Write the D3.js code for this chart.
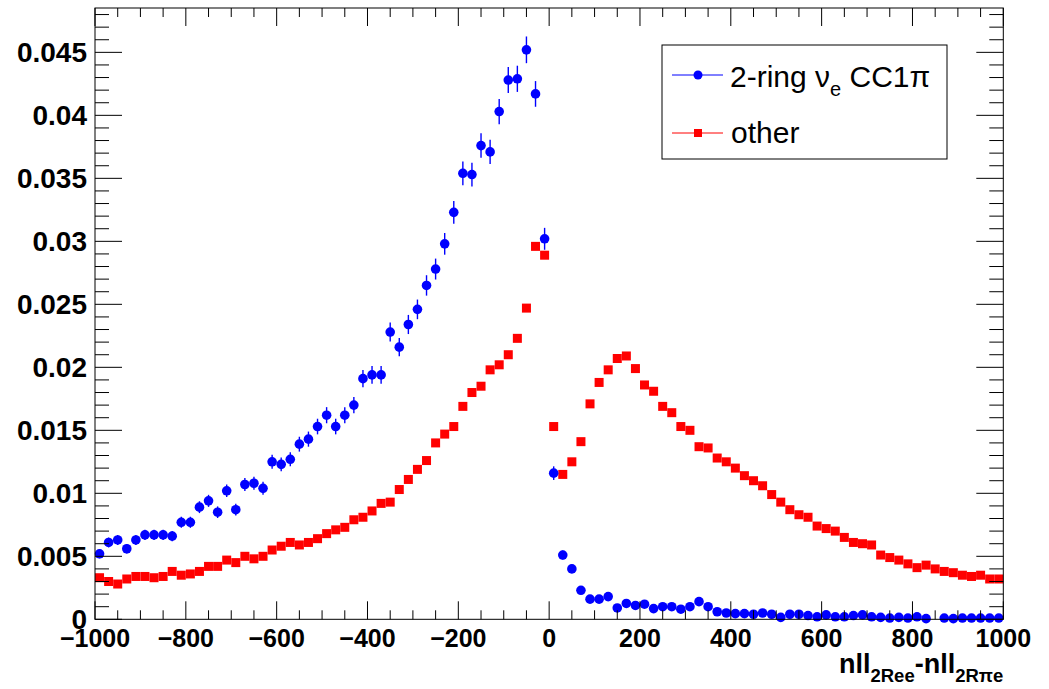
<!DOCTYPE html>
<html>
<head>
<meta charset="utf-8">
<script src="https://cdn.jsdelivr.net/npm/d3@7"></script>
<style>
  html, body { margin: 0; padding: 0; background: #fff; }
  svg { display: block; }
</style>
</head>
<body>
<svg id="chart" width="1049" height="689"></svg>
<script>
// ---------------- data ----------------
const binLow = -1000, binHigh = 1000, nBins = 100;
const binCenters = d3.range(nBins).map(i => binLow + (i + 0.5) * (binHigh - binLow) / nBins);

const signalValues = [
  0.0052, 0.0061, 0.0063, 0.0056, 0.0063, 0.0067, 0.0067, 0.0067, 0.0066, 0.0077,
  0.0077, 0.0089, 0.0094, 0.0085, 0.0102, 0.0087, 0.0107, 0.0108, 0.0104, 0.0125,
  0.0123, 0.0127, 0.0139, 0.0143, 0.0153, 0.0162, 0.0153, 0.0162, 0.0170, 0.0191,
  0.0194, 0.0194, 0.0228, 0.0216, 0.0234, 0.0246, 0.0265, 0.0278, 0.0298, 0.0323,
  0.0354, 0.0353, 0.0376, 0.0371, 0.0403, 0.0428, 0.0429, 0.0452, 0.0417, 0.0302,
  0.0116, 0.0051, 0.0040, 0.0023, 0.0016, 0.0016, 0.0018, 0.0009, 0.00126, 0.0011,
  0.0012, 0.00085, 0.0010, 0.0010, 0.0008, 0.0010, 0.0014, 0.0010, 0.0006, 0.0005,
  0.00045, 0.00045, 0.0004, 0.0005, 0.0004, 0.00015, 0.0004, 0.0004, 0.0003, 0.0002,
  0.00035, 0.0002, 0.0002, 0.0003, 0.00035, 0.0002, 0.00015, 0.0001, 0.00015, 0.0001,
  0.0002, 0.00005, null, 0.0001, 0.00005, 0.0001, 0.0001, 0.0001, 0.0001, 0.0001
];
const signalErrors = [
  0.00036, 0.00039, 0.0004, 0.00037, 0.0004, 0.00041, 0.00041, 0.00041, 0.00041, 0.00044,
  0.00044, 0.00047, 0.00048, 0.00046, 0.0005, 0.00047, 0.00052, 0.00052, 0.00051, 0.00056,
  0.00055, 0.00056, 0.00059, 0.0006, 0.00062, 0.00064, 0.00062, 0.00064, 0.00065, 0.00069,
  0.0007, 0.0007, 0.00076, 0.00073, 0.00076, 0.00078, 0.00081, 0.00083, 0.00086, 0.0009,
  0.00094, 0.00094, 0.00097, 0.00096, 0.001, 0.00103, 0.00104, 0.00106, 0.00102, 0.00087,
  0.00054, 0.00036, 0.00032, 0.00024, 0.0002, 0.0002, 0.00021, 0.00015, 0.00018, 0.00017,
  0.00017, 0.00015, 0.00016, 0.00016, 0.00014, 0.00016, 0.00019, 0.00016, 0.00012, 0.00011,
  0.0001, 0.0001, 0.0001, 0.00011, 0.0001, 0.00006, 0.0001, 0.0001, 0.00009, 0.00007,
  0.00009, 0.00007, 0.00007, 0.00009, 0.00009, 0.00007, 0.00006, 0.00005, 0.00006, 0.00005,
  0.00007, 0.00004, 0, 0.00005, 0.00004, 0.00005, 0.00005, 0.00005, 0.00005, 0.00005
];
const otherValues = [
  0.0033, 0.0030, 0.0028, 0.0032, 0.0034, 0.0034, 0.0033, 0.0034, 0.0038, 0.0035,
  0.0036, 0.0038, 0.0042, 0.0042, 0.0047, 0.0045, 0.0050, 0.0048, 0.0050, 0.0055,
  0.0058, 0.0061, 0.0059, 0.0061, 0.0064, 0.0068, 0.0071, 0.0073, 0.0079, 0.0081,
  0.0086, 0.0092, 0.0093, 0.0103, 0.0111, 0.0119, 0.0126, 0.0140, 0.0147, 0.0153,
  0.0169, 0.0180, 0.0185, 0.0198, 0.0202, 0.0210, 0.0223, 0.0247, 0.0296, 0.0289,
  0.0153, 0.0115, 0.0125, 0.0141, 0.0171, 0.0188, 0.0198, 0.0207, 0.0209, 0.0199,
  0.0186, 0.0181, 0.0169, 0.0164, 0.0153, 0.0150, 0.0137, 0.0136, 0.0128, 0.0125,
  0.0120, 0.0114, 0.0110, 0.0106, 0.0099, 0.0093, 0.0087, 0.0083, 0.0081, 0.0074,
  0.0072, 0.0070, 0.0065, 0.0061, 0.0060, 0.0059, 0.0051, 0.0049, 0.0047, 0.0044,
  0.0041, 0.0043, 0.0040, 0.0038, 0.0037, 0.0035, 0.0034, 0.0035, 0.0032, 0.0032
];

const xMajorTicks = [-1000, -800, -600, -400, -200, 0, 200, 400, 600, 800, 1000];
const xTickLabels = ["\u22121000", "\u2212800", "\u2212600", "\u2212400", "\u2212200", "0", "200", "400", "600", "800", "1000"];
const yMajorTicks = [0, 0.005, 0.01, 0.015, 0.02, 0.025, 0.03, 0.035, 0.04, 0.045];
const yTickLabels = ["0", "0.005", "0.01", "0.015", "0.02", "0.025", "0.03", "0.035", "0.04", "0.045"];
const legendLabels = ["2-ring", "other"];

// ---------------- layout ----------------
const frame = { left: 95, right: 1003.3, top: 8, bottom: 619.3 };
const yMax = 0.04852;
const svg = d3.select("#chart");
svg.append("rect").attr("width", 1049).attr("height", 689).attr("fill", "#fff");

const x = d3.scaleLinear().domain([binLow, binHigh]).range([frame.left, frame.right]);
const y = d3.scaleLinear().domain([0, yMax]).range([frame.bottom, frame.top]);

const BLUE = "#0000ff", RED = "#ff0000";
const font = "'Liberation Sans', Arial, Helvetica, sans-serif";

// ---------------- data marks ----------------
const otherData = binCenters.map((c, i) => ({ c, v: otherValues[i] }));
const sigData = binCenters.map((c, i) => ({ c, v: signalValues[i], e: signalErrors[i] })).filter(d => d.v !== null);

const sq = 9;
svg.append("g").selectAll("rect").data(otherData).join("rect")
  .attr("x", d => x(d.c) - sq / 2).attr("y", d => y(d.v) - sq / 2)
  .attr("width", sq).attr("height", sq).attr("fill", RED);

svg.append("g").selectAll("line").data(sigData).join("line")
  .attr("x1", d => x(d.c)).attr("x2", d => x(d.c))
  .attr("y1", d => y(d.v + d.e)).attr("y2", d => y(Math.max(0, d.v - d.e)))
  .attr("stroke", BLUE).attr("stroke-width", 1.4);

svg.append("g").selectAll("circle").data(sigData).join("circle")
  .attr("cx", d => x(d.c)).attr("cy", d => y(d.v)).attr("r", 4.8).attr("fill", BLUE);

// ---------------- frame and ticks ----------------
const axisG = svg.append("g").attr("stroke", "#000").attr("stroke-width", 1);
axisG.append("rect")
  .attr("x", frame.left).attr("y", frame.top)
  .attr("width", frame.right - frame.left).attr("height", frame.bottom - frame.top)
  .attr("fill", "none");

const xMinor = d3.range(-1000, 1001, 50).filter(v => v % 200 !== 0);
const yMinor = d3.range(0, 49).map(i => i * 0.001).filter(v => y(v) >= frame.top && Math.round(v * 1000) % 5 !== 0);

function tick(x1, y1, x2, y2) {
  axisG.append("line").attr("x1", x1).attr("y1", y1).attr("x2", x2).attr("y2", y2);
}
xMajorTicks.forEach(v => {
  tick(x(v), frame.bottom, x(v), frame.bottom - 18);
  tick(x(v), frame.top, x(v), frame.top + 18);
});
xMinor.forEach(v => {
  tick(x(v), frame.bottom, x(v), frame.bottom - 9);
  tick(x(v), frame.top, x(v), frame.top + 9);
});
yMajorTicks.forEach(v => {
  tick(frame.left, y(v), frame.left + 27, y(v));
  tick(frame.right, y(v), frame.right - 27, y(v));
});
yMinor.forEach(v => {
  tick(frame.left, y(v), frame.left + 14, y(v));
  tick(frame.right, y(v), frame.right - 14, y(v));
});

// ---------------- tick labels ----------------
svg.append("g").selectAll("text").data(xMajorTicks).join("text")
  .attr("x", d => x(d)).attr("y", 647)
  .attr("text-anchor", "middle")
  .attr("font-family", font).attr("font-weight", "bold").attr("font-size", 25)
  .text((d, i) => xTickLabels[i]);

svg.append("g").selectAll("text").data(yMajorTicks).join("text")
  .attr("x", 87).attr("y", d => y(d) + 10)
  .attr("text-anchor", "end")
  .attr("font-family", font).attr("font-weight", "bold").attr("font-size", 28)
  .text((d, i) => yTickLabels[i]);

// ---------------- axis title ----------------
const title = svg.append("text")
  .attr("x", frame.right).attr("y", 673)
  .attr("text-anchor", "end")
  .attr("font-family", font).attr("font-weight", "bold").attr("font-size", 27);
title.append("tspan").text("nll");
title.append("tspan").attr("dy", 9).attr("font-size", 18.5).text("2Ree");
title.append("tspan").attr("dy", -9).text("-nll");
title.append("tspan").attr("dy", 9).attr("font-size", 18.5).text("2R\u03C0e");

// ---------------- legend ----------------
const lg = svg.append("g");
lg.append("rect").attr("x", 662).attr("y", 45).attr("width", 285).attr("height", 114)
  .attr("fill", "#fff").attr("stroke", "#000").attr("stroke-width", 1);

lg.append("line").attr("x1", 672).attr("x2", 723).attr("y1", 75).attr("y2", 75).attr("stroke", BLUE).attr("stroke-width", 1);
lg.append("circle").attr("cx", 698).attr("cy", 75).attr("r", 4.5).attr("fill", BLUE);
const t1 = lg.append("text").attr("x", 730).attr("y", 87)
  .attr("font-family", font).attr("font-size", 30).attr("fill", "#000");
t1.append("tspan").text(legendLabels[0] + " \u03BD");
t1.append("tspan").attr("dy", 9).attr("font-size", 20).text("e");
t1.append("tspan").attr("dy", -9).text(" CC1\u03C0");

lg.append("line").attr("x1", 672).attr("x2", 723).attr("y1", 133).attr("y2", 133).attr("stroke", RED).attr("stroke-width", 1);
lg.append("rect").attr("x", 698 - 4).attr("y", 133 - 4).attr("width", 8).attr("height", 8).attr("fill", RED);
lg.append("text").attr("x", 731).attr("y", 143)
  .attr("font-family", font).attr("font-size", 30).attr("fill", "#000")
  .text(legendLabels[1]);
</script>
</body>
</html>
